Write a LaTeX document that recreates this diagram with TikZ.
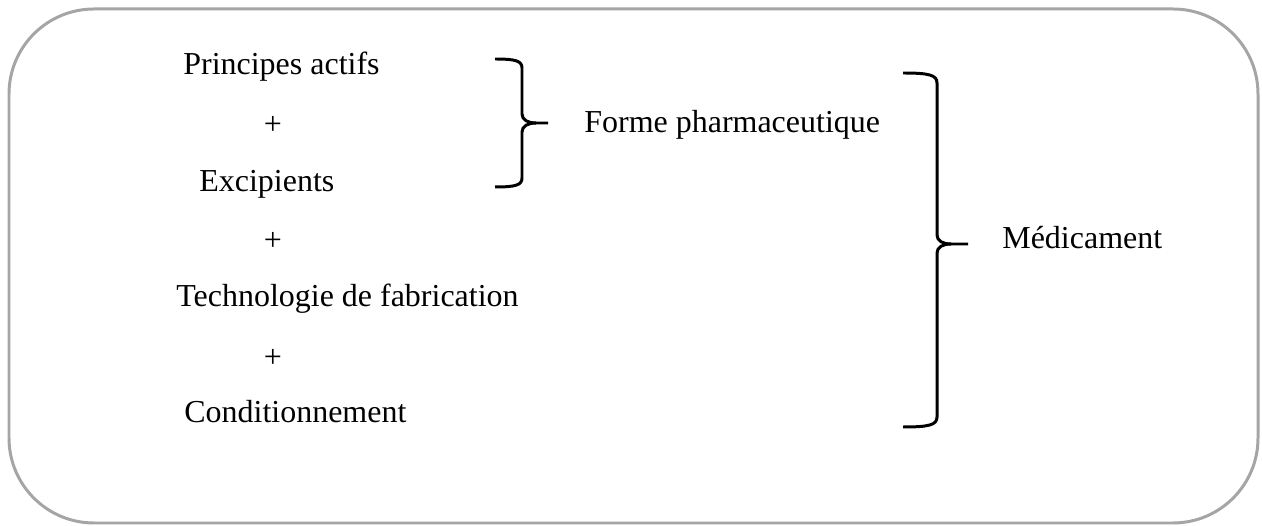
\documentclass[tikz,border=0pt]{standalone}
\usepackage{fontspec}
\setmainfont{Liberation Serif}
\usepackage{xcolor}
\usepackage{tikz}
\definecolor{framegray}{RGB}{165, 165, 165}

\begin{document}
\begin{tikzpicture}[x=0.02cm, y=-0.02cm,
    item/.style={anchor=base west, inner sep=0pt, font=\fontsize{18.2}{21}\selectfont},
    plus/.style={anchor=base, inner sep=0pt, font=\fontsize{18.2}{21}\selectfont},
    bracket/.style={line width=1.7pt, black}]
                \useasboundingbox (0,0) rectangle (1262,526);

                % Rounded frame
                \draw[framegray, line width=1.7pt, rounded corners=1.7cm] (9,9) rectangle (1258,523);

                % Ingredients column
                \node[item] (pa) at (183,75) {Principes actifs};
                \node[plus] (p1) at (273,135) {+};
                \node[item] (ex) at (199,191.5) {Excipients};
                \node[plus] (p2) at (273,251) {+};
                \node[item] (tf) at (176,307) {Technologie de fabrication};
                \node[plus] (p3) at (273,368) {+};
                \node[item] (co) at (184,423) {Conditionnement};

                % Results
                \node[item] (fp) at (584,133) {Forme pharmaceutique};
                \node[item] (med) at (1002,249) {Médicament};

                % Small brace
                \draw[bracket] (495,59) .. controls (516,59) and (522,61) .. (522,68) -- (522,114)
                    .. controls (522,120) and (528,123) .. (536,123) -- (548,123);
                \draw[bracket] (536,123) .. controls (528,123) and (522,126) .. (522,132) -- (522,178)
                    .. controls (522,185) and (516,187) .. (495,187);

                % Large brace
                \draw[bracket] (903,73) .. controls (929,73) and (937,75) .. (937,83) -- (937,235)
                    .. controls (937,241) and (943,244) .. (951,244) -- (968,244);
                \draw[bracket] (951,244) .. controls (943,244) and (937,247) .. (937,253) -- (937,417)
                    .. controls (937,425) and (929,427) .. (903,427);
            \end{tikzpicture}
\end{document}
